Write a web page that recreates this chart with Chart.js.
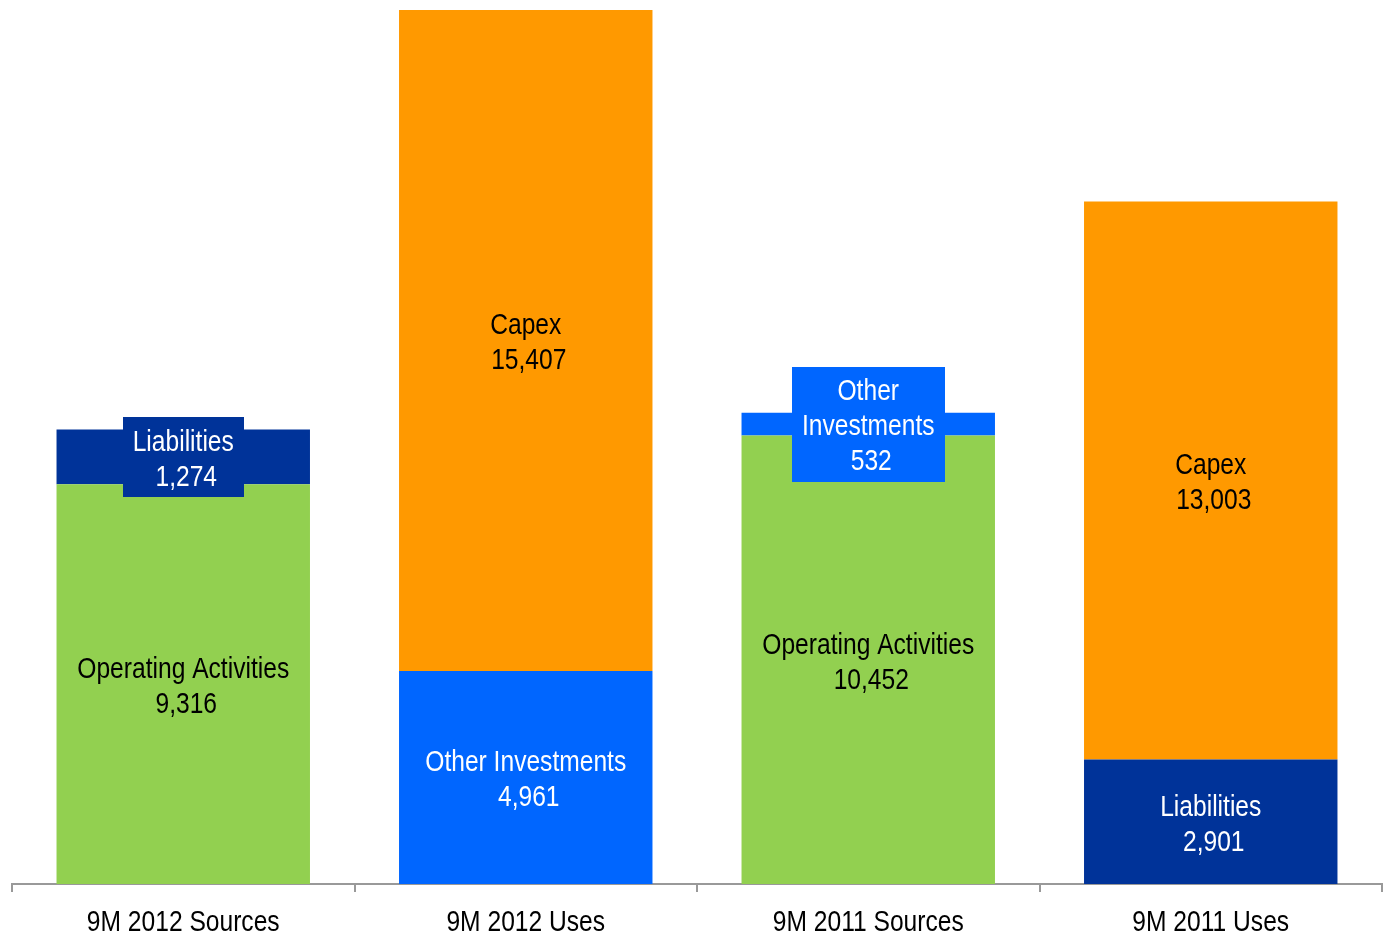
<!DOCTYPE html>
<html lang="en">
<head>
    <meta charset="UTF-8">
    <title>Sources and Uses of Funds</title>
    <script src="https://cdn.jsdelivr.net/npm/chart.js"></script>
    <style>
        body { margin: 0; background: #fff; }
        #wrap { width: 1383px; height: 943px; }
    </style>
</head>
<body>
    <div id="wrap"><canvas id="fundsChart"></canvas></div>
    <script>
        const categories = ['9M 2012 Sources', '9M 2012 Uses', '9M 2011 Sources', '9M 2011 Uses'];
        const operatingActivities = [9316, null, 10452, null];
        const otherInvestments = [null, 4961, 532, null];
        const liabilities = [1274, null, null, 2901];
        const capex = [null, 15407, null, 13003];

        const FONT = '30px "Liberation Sans", Arial, sans-serif';
        const NARROW = 0.82;   // horizontal squeeze to get a narrow face
        const LINE = 35;

        function narrowWidth(ctx, s) {
            return ctx.measureText(s).width * NARROW;
        }

        function drawNarrow(ctx, s, x, y) {
            ctx.save();
            ctx.translate(x, y);
            ctx.scale(NARROW, 1);
            ctx.fillText(s, 0, 0);
            ctx.restore();
        }

        // writes the name and value inside each segment; thin segments get a box in the segment colour,
        // and the category names go under the axis
        const segmentLabels = {
            id: 'segmentLabels',
            afterDatasetsDraw(chart) {
                const ctx = chart.ctx;
                ctx.save();
                ctx.font = FONT;
                ctx.textAlign = 'center';
                ctx.textBaseline = 'middle';
                chart.data.datasets.forEach((ds, di) => {
                    const meta = chart.getDatasetMeta(di);
                    meta.data.forEach((bar, i) => {
                        const v = ds.data[i];
                        if (v == null) return;
                        const top = bar.y, bottom = bar.base;
                        const segH = bottom - top;
                        const val = v.toLocaleString('en-US');
                        let lines = [ds.label, val];
                        const boxed = 2 * LINE > segH;
                        if (boxed && ds.label.includes(' ')) {
                            lines = ds.label.split(' ').concat([val]);
                        }
                        const cx = bar.x;
                        const cy = (top + bottom) / 2;
                        const h = lines.length * LINE;
                        if (boxed) {
                            const w = Math.max(...lines.map(l => narrowWidth(ctx, l))) + 20;
                            ctx.fillStyle = ds.backgroundColor;
                            ctx.fillRect(Math.round(cx - w / 2), Math.round(cy - h / 2 - 5), Math.round(w), h + 10);
                        }
                        ctx.fillStyle = ds.textColor;
                        lines.forEach((l, k) => {
                            const dx = /^[\d,]+$/.test(l) ? 3 : 0;
                            drawNarrow(ctx, l, cx + dx, cy - h / 2 + LINE / 2 + k * LINE + 3);
                        });
                    });
                });

                const xs = chart.scales.x;
                ctx.fillStyle = '#000';
                categories.forEach((c, i) => {
                    drawNarrow(ctx, c, xs.getPixelForValue(i), xs.top + 39);
                });
                ctx.restore();
            }
        };

        new Chart(document.getElementById('fundsChart'), {
            type: 'bar',
            data: {
                labels: categories,
                datasets: [
                    { label: 'Operating Activities', data: operatingActivities, backgroundColor: '#92D050', textColor: '#000' },
                    { label: 'Other Investments', data: otherInvestments, backgroundColor: '#0066FF', textColor: '#fff' },
                    { label: 'Liabilities', data: liabilities, backgroundColor: '#003399', textColor: '#fff' },
                    { label: 'Capex', data: capex, backgroundColor: '#FF9900', textColor: '#000' }
                ]
            },
            options: {
                responsive: true,
                maintainAspectRatio: false,
                animation: false,
                datasets: { bar: { categoryPercentage: 1, barPercentage: 0.74 } },
                layout: { padding: { top: 10, left: 12, right: 1, bottom: 7 } },
                plugins: { legend: { display: false }, tooltip: { enabled: false } },
                scales: {
                    x: {
                        stacked: true,
                        grid: { drawOnChartArea: false, drawTicks: true, tickLength: 8, color: '#999', lineWidth: 2 },
                        border: { color: '#999', width: 2 },
                        ticks: {
                            color: 'rgba(0,0,0,0)',
                            padding: 4,
                            font: { family: '"Liberation Sans", Arial, sans-serif', size: 30 }
                        }
                    },
                    y: {
                        stacked: true,
                        display: false,
                        min: 0,
                        max: 20368
                    }
                }
            },
            plugins: [segmentLabels]
        });
    </script>
</body>
</html>
